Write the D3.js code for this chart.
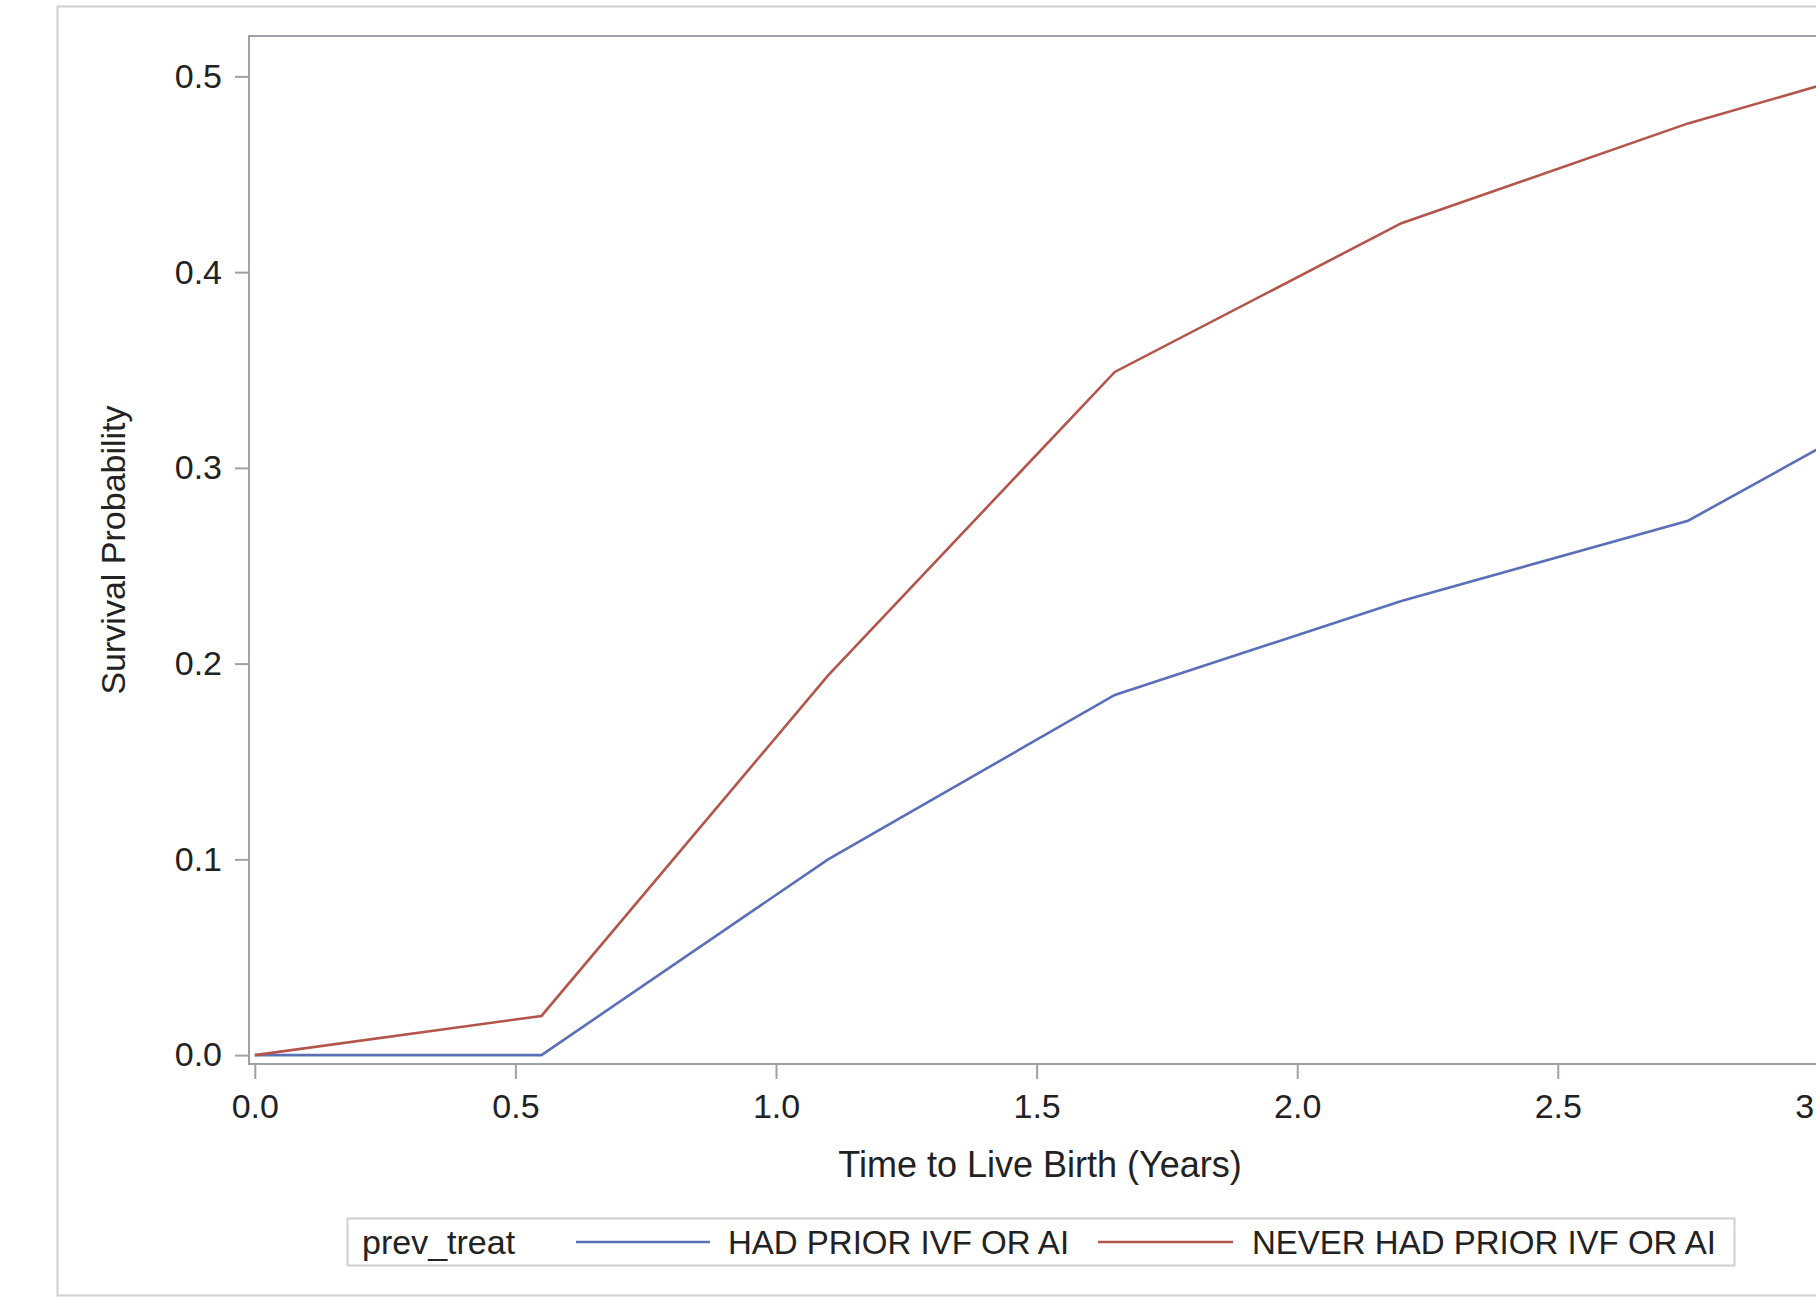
<!DOCTYPE html>
<html>
<head>
<meta charset="utf-8">
<script src="https://cdn.jsdelivr.net/npm/d3@7"></script>
<style>
  html, body { margin: 0; padding: 0; background: #fff; overflow: hidden; }
  text { font-family: "Liberation Sans", Arial, sans-serif; fill: #222; }
</style>
</head>
<body>
<div class="canvas"></div>
<script>
// data
const times = [0, 0.55, 1.1, 1.65, 2.2, 2.75, 3.3];
const hadPrior = [0, 0, 0.1, 0.184, 0.232, 0.273, 0.354];
const neverPrior = [0, 0.02, 0.194, 0.349, 0.425, 0.476, 0.518];
const xTicks = [0, 0.5, 1.0, 1.5, 2.0, 2.5, 3.0];
const yTicks = [0, 0.1, 0.2, 0.3, 0.4, 0.5];
const seriesNames = ['HAD PRIOR IVF OR AI', 'NEVER HAD PRIOR IVF OR AI'];
const colors = ['#5b6fb8', '#b4554b'];

const svg = d3.select('.canvas')
  .append('svg')
    .attr('width', 1900)
    .attr('height', 1299);

// outer frame
svg.append('rect')
  .attr('x', 57.5).attr('y', 6.5)
  .attr('width', 1820).attr('height', 1289)
  .attr('fill', 'none')
  .attr('stroke', '#cfcfcf')
  .attr('stroke-width', 2);

// plot area
const plot = {left: 249, top: 36, right: 1831, bottom: 1064};

const x = d3.scaleLinear()
  .domain([0, 3])
  .range([254.8, 1818.4]);

const y = d3.scaleLinear()
  .domain([0, 0.5])
  .range([1055.1, 76.4]);

svg.append('defs').append('clipPath')
  .attr('id', 'plotClip')
  .append('rect')
    .attr('x', plot.left).attr('y', plot.top)
    .attr('width', plot.right - plot.left)
    .attr('height', plot.bottom - plot.top);

// axes
const xAxis = d3.axisBottom(x)
  .tickValues(xTicks)
  .tickSize(15)
  .tickPadding(15)
  .tickFormat(d3.format('.1f'));

const yAxis = d3.axisLeft(y)
  .tickValues(yTicks)
  .tickSize(14)
  .tickPadding(13)
  .tickFormat(d3.format('.1f'));

const xAxisGroup = svg.append('g')
  .attr('transform', `translate(0, ${plot.bottom})`)
  .call(xAxis);

const yAxisGroup = svg.append('g')
  .attr('transform', `translate(${plot.left}, 0)`)
  .call(yAxis);

[xAxisGroup, yAxisGroup].forEach(g => {
  g.select('.domain').remove();
  g.selectAll('line').attr('stroke', '#9ea2a8').attr('stroke-width', 2);
  g.selectAll('text').attr('font-size', 34).attr('fill', '#222');
});

// frame
svg.append('rect')
  .attr('x', plot.left).attr('y', plot.top)
  .attr('width', plot.right - plot.left)
  .attr('height', plot.bottom - plot.top)
  .attr('fill', 'none')
  .attr('stroke', '#9ea2a8')
  .attr('stroke-width', 2);

// lines
const line = d3.line()
  .x(d => x(d[0]))
  .y(d => y(d[1]));

const series = [hadPrior, neverPrior].map(vals => times.map((t, i) => [t, vals[i]]));

svg.append('g')
  .attr('clip-path', 'url(#plotClip)')
  .selectAll('path')
  .data(series)
  .enter()
  .append('path')
    .attr('d', line)
    .attr('fill', 'none')
    .attr('stroke', (d, i) => colors[i])
    .attr('stroke-width', 2.6);

// axis labels
svg.append('text')
  .attr('x', 1040).attr('y', 1177)
  .attr('text-anchor', 'middle')
  .attr('font-size', 36)
  .text('Time to Live Birth (Years)');

svg.append('text')
  .attr('transform', 'translate(125, 550) rotate(-90)')
  .attr('text-anchor', 'middle')
  .attr('font-size', 34)
  .text('Survival Probability');

// legend
const legend = svg.append('g');
legend.append('rect')
  .attr('x', 347.5).attr('y', 1218.5)
  .attr('width', 1387).attr('height', 47)
  .attr('fill', 'none')
  .attr('stroke', '#cfcfcf')
  .attr('stroke-width', 2);

legend.append('text')
  .attr('x', 362).attr('y', 1254)
  .attr('font-size', 34)
  .text('prev_treat');

const legendItems = [{x1: 576, x2: 710, tx: 728}, {x1: 1098, x2: 1233, tx: 1252}];
legendItems.forEach((item, i) => {
  legend.append('line')
    .attr('x1', item.x1).attr('x2', item.x2)
    .attr('y1', 1242).attr('y2', 1242)
    .attr('stroke', colors[i])
    .attr('stroke-width', 2.6);
  legend.append('text')
    .attr('x', item.tx).attr('y', 1254)
    .attr('font-size', 33)
    .attr('letter-spacing', 0)
    .text(seriesNames[i]);
});
</script>
</body>
</html>
